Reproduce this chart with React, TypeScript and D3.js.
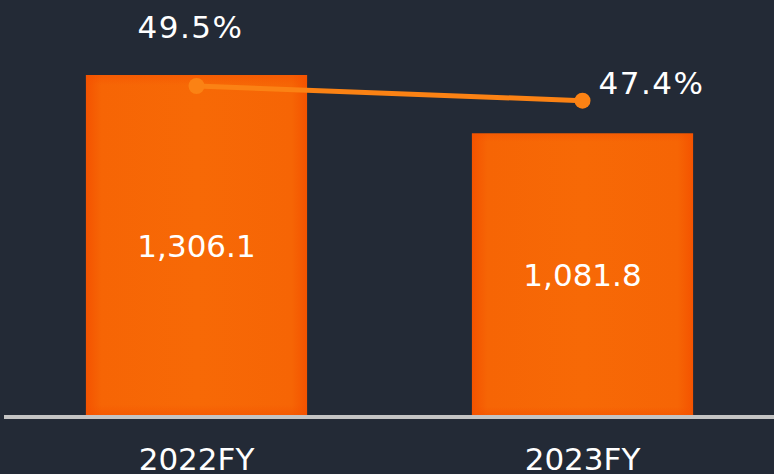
import React from "react";
import * as d3 from "d3";

const categories = ["2022FY", "2023FY"];
const revenue = [1306.1, 1081.8];
const margin = [49.5, 47.4];
const revenueLabels = ["1,306.1", "1,081.8"];
const marginLabels = ["49.5%", "47.4%"];

const W = 774;
const H = 474;
const FONT = "'DejaVu Sans', Verdana, sans-serif";

export default function App() {
  const x = d3
    .scaleBand<string>()
    .domain(categories)
    .range([3.5, 775.5])
    .paddingInner(0.427)
    .paddingOuter(0.2135);
  const baseY = 415;
  const y = d3.scaleLinear().domain([0, d3.max(revenue) as number]).range([baseY, 75]);
  const yp = d3.scaleLinear().domain([40, 50]).range([152.5, 82.5]);
  const bw = x.bandwidth();
  const pts: [number, number][] = categories.map((c, i) => [
    (x(c) as number) + bw / 2,
    yp(margin[i]),
  ]);
  const line = d3.line();

  return (
    <svg
      width={W}
      height={H}
      style={{ position: "absolute", left: 0, top: 0, display: "block" }}
    >
      <defs>
        <linearGradient id="barH" x1="0" x2="1" y1="0" y2="0">
          <stop offset="0" stopColor="#f45300" />
          <stop offset="0.07" stopColor="#f66505" />
          <stop offset="0.5" stopColor="#f76906" />
          <stop offset="0.93" stopColor="#f66505" />
          <stop offset="1" stopColor="#f45300" />
        </linearGradient>
        <linearGradient id="barV" x1="0" x2="0" y1="0" y2="1">
          <stop offset="0" stopColor="#f45000" stopOpacity="0.5" />
          <stop offset="0.03" stopColor="#f45000" stopOpacity="0" />
          <stop offset="0.97" stopColor="#f45000" stopOpacity="0" />
          <stop offset="1" stopColor="#f45000" stopOpacity="0.5" />
        </linearGradient>
      </defs>
      <rect x={0} y={0} width={W} height={H} fill="#232a36" />
      {categories.map((c, i) => {
        const bx = x(c) as number;
        const by = y(revenue[i]);
        const bh = baseY - by;
        return (
          <g key={c}>
            <rect x={bx} y={by} width={bw} height={bh} fill="url(#barH)" />
            <rect x={bx} y={by} width={bw} height={bh} fill="url(#barV)" />
            <text
              x={bx + bw / 2}
              y={by + bh / 2 + 12}
              textAnchor="middle"
              fill="#ffffff"
              fontFamily={FONT}
              fontSize={31}
            >
              {revenueLabels[i]}
            </text>
            <text
              x={bx + bw / 2}
              y={470}
              textAnchor="middle"
              fill="#ffffff"
              fontFamily={FONT}
              fontSize={31}
            >
              {c}
            </text>
          </g>
        );
      })}
      <rect x={4} y={baseY} width={W - 4} height={4} fill="#c4c4c4" />
      <path
        d={line(pts) as string}
        fill="none"
        stroke="#fb8214"
        strokeWidth={5}
      />
      {pts.map((p, i) => (
        <circle key={i} cx={p[0]} cy={p[1]} r={8} fill="#fb8214" />
      ))}
      <text
        x={pts[0][0] - 6}
        y={pts[0][1] - 48}
        textAnchor="middle"
        fill="#ffffff"
        fontFamily={FONT}
        fontSize={31}
        letterSpacing={1.5}
      >
        {marginLabels[0]}
      </text>
      <text
        x={pts[1][0] + 16}
        y={pts[1][1] - 7}
        textAnchor="start"
        fill="#ffffff"
        fontFamily={FONT}
        fontSize={31}
        letterSpacing={1.5}
      >
        {marginLabels[1]}
      </text>
    </svg>
  );
}
